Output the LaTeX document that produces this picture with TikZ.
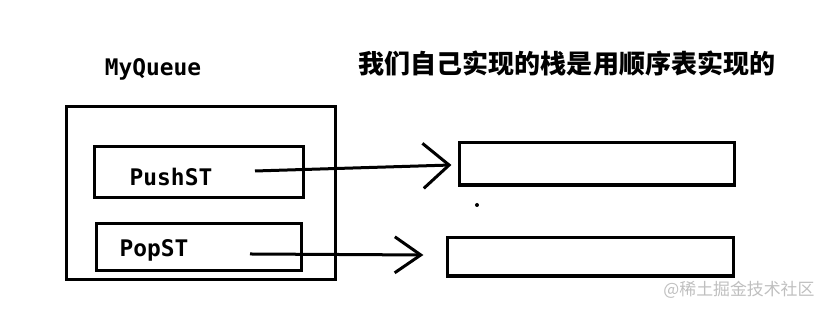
\documentclass[tikz,border=0pt]{standalone}
\usepackage{fontspec}
\setmonofont{DejaVu Sans Mono}
\newfontfamily\cjk{Noto Sans CJK SC}
\usetikzlibrary{arrows.meta,positioning}

\begin{document}
\begin{tikzpicture}[x=0.01cm,y=-0.01cm,line width=0.03cm,
        lab/.style={font=\fontsize{6.5}{7}\selectfont\ttfamily\bfseries, inner sep=0pt},
        chev/.style={-{Straight Barb[length=2.6mm,width=#1]}}]
    \useasboundingbox (0,0) rectangle (832,310);
    % queue and its two stacks
    \node[draw, minimum width=2.68cm, minimum height=1.72cm] (queue) at (201,193) {};
    \node[draw, minimum width=2.08cm, minimum height=0.50cm] (push) at (199,172) {};
    \node[draw, minimum width=2.04cm, minimum height=0.46cm] (pop) at (199,247) {};
    \node[lab] (qname) at (153,69) {MyQueue};
    \node[lab] (pushlab) at (171,177) {PushST};
    \node[lab] (poplab) at (154,250) {PopST};
    % sequential lists
    \node[draw, minimum width=2.74cm, minimum height=0.42cm] (list1) at (597,164) {};
    \node[draw, minimum width=2.85cm, minimum height=0.38cm] (list2) at (590.5,257) {};
    \node[font=\cjk\bfseries\fontsize{7.4}{9}\selectfont, inner sep=0pt] (title) at (567,63) {我们自己实现的栈是用顺序表实现的};
    % arrows
    \coordinate (pushfrom) at (255,171);
    \coordinate (popfrom) at (250,254);
    \draw[chev=4.5mm] (pushfrom) -- ([xshift=-0.07cm,yshift=-0.01cm]list1.west);
    \draw[chev=3.6mm] (popfrom) -- ([xshift=-0.23cm,yshift=0.02cm]list2.west);
    \fill (477,205) circle (0.02cm);
    \node[font=\cjk\fontsize{4.8}{6}\selectfont, text=gray!50, inner sep=0pt] (mark) at (739,290) {@稀土掘金技术社区};
\end{tikzpicture}
\end{document}
